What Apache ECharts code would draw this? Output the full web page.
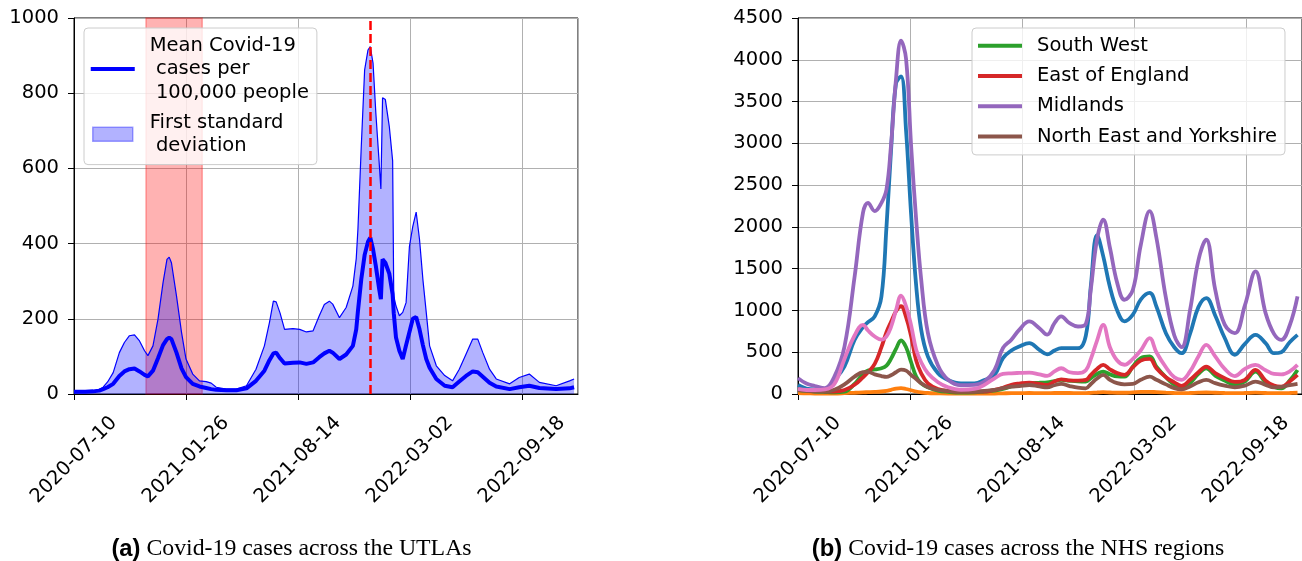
<!DOCTYPE html>
<html>
<head>
<meta charset="utf-8">
<title>Covid-19 cases across UTLAs and NHS regions</title>
<script src="https://cdn.jsdelivr.net/npm/echarts@6/dist/echarts.min.js"></script>
<style>
  html, body { margin: 0; padding: 0; background: #fff; }
  #chart { width: 1302px; height: 561px; }
</style>
</head>
<body>
<div id="chart"></div>
<script>
// x values are days counted from the first tick date
var startDate = Date.UTC(2020, 6, 10);
var xTickStep = 200;
var xMaxDay = 900;

// (a) UTLAs: mean cases per 100,000 and the upper edge of the 1 sd band
var utlaDays = [0, 20, 34, 45, 52, 60, 70, 81, 90, 99, 108, 117, 126, 132, 141, 150, 159, 166, 170, 174,
  183, 192, 200, 212, 224, 236, 245, 254, 272, 290, 308, 325, 340, 349, 356, 361, 368, 376, 391, 403,
  415, 427, 438, 447, 456, 462, 474, 486, 498, 504, 507, 513, 519, 525, 529, 534, 539, 545, 548, 551,
  556, 563, 569, 571, 575, 581, 587, 593, 599, 605, 611, 617, 623, 629, 635, 647, 662, 676, 688, 700,
  712, 721, 730, 742, 754, 778, 795, 813, 831, 861, 885, 893];
var utlaUpper = [7, 7, 8, 12, 18, 32, 57, 110, 137, 155, 157, 141, 115, 102, 128, 199, 296, 358, 364, 349,
  261, 164, 93, 53, 35, 33, 29, 18, 13, 13, 22, 66, 128, 190, 247, 245, 215, 172, 174, 172,
  165, 168, 208, 238, 247, 239, 203, 230, 287, 360, 438, 659, 862, 915, 924, 880, 747, 614, 545, 788,
  783, 712, 620, 260, 234, 208, 217, 243, 393, 446, 484, 411, 305, 217, 128, 75, 49, 35, 66, 106,
  146, 146, 110, 66, 40, 27, 44, 53, 31, 22, 35, 40];
var utlaMean = [6, 6, 7, 9, 13, 18, 27, 48, 60, 66, 68, 60, 51, 47, 62, 95, 130, 146, 150, 146,
  110, 68, 45, 27, 20, 16, 13, 11, 10, 10, 15, 35, 62, 90, 108, 110, 95, 81, 83, 84,
  80, 84, 98, 108, 115, 110, 93, 105, 128, 172, 220, 305, 370, 405, 416, 385, 340, 279, 252, 358,
  349, 320, 265, 215, 150, 115, 93, 130, 165, 200, 205, 172, 130, 93, 70, 40, 22, 18, 33, 48,
  60, 58, 46, 30, 20, 13, 18, 22, 16, 13, 15, 18];
var shadedSpan = [128.5, 229];
var markerDay = 529;

// (b) NHS regions
var regionDays = [0, 15, 30, 48, 65, 83, 101, 116, 125, 137, 149, 158, 166, 175, 184, 193, 202, 211, 220, 232,
  250, 268, 291, 315, 333, 351, 366, 381, 395, 413, 431, 445, 458, 470, 485, 500, 514, 523, 534, 545,
  557, 570, 583, 598, 612, 628, 640, 657, 672, 685, 700, 715, 729, 745, 762, 780, 798, 817, 835, 850,
  863, 878, 892];
var london = [108, 65, 56, 60, 168, 330, 648, 800, 860, 928, 1168, 2000, 2900, 3720, 3800, 3150, 2150, 1300, 768, 448,
  248, 168, 128, 128, 168, 228, 430, 520, 568, 608, 528, 475, 520, 548, 548, 548, 700, 1300, 1900, 1650,
  1280, 1000, 870, 950, 1130, 1210, 1048, 728, 560, 488, 720, 1040, 1148, 940, 670, 470, 600, 708, 608, 488,
  500, 620, 708];
var northWest = [10, 8, 6, 5, 6, 10, 15, 20, 22, 25, 30, 38, 50, 65, 70, 60, 45, 30, 20, 12,
  8, 5, 4, 4, 5, 6, 8, 10, 10, 12, 10, 10, 12, 12, 12, 10, 10, 14, 18, 22,
  18, 15, 15, 20, 25, 26, 22, 16, 12, 10, 12, 16, 18, 15, 12, 10, 12, 16, 12, 10,
  10, 12, 15];
var southWest = [48, 38, 30, 24, 20, 28, 120, 240, 280, 295, 308, 340, 420, 540, 640, 560, 380, 210, 128, 80,
  40, 25, 16, 20, 30, 40, 60, 90, 110, 128, 135, 140, 155, 168, 158, 150, 148, 190, 240, 268,
  235, 210, 208, 330, 430, 450, 328, 200, 110, 68, 130, 240, 308, 220, 160, 110, 150, 268, 140, 85,
  68, 160, 288];
var eastOfEngland = [56, 45, 40, 32, 30, 48, 110, 200, 260, 360, 560, 740, 860, 990, 1050, 920, 690, 400, 248, 128,
  60, 35, 28, 28, 28, 50, 75, 110, 125, 136, 120, 108, 150, 176, 162, 160, 168, 230, 300, 348,
  295, 250, 228, 320, 400, 420, 308, 200, 140, 96, 170, 260, 328, 250, 190, 145, 170, 288, 160, 100,
  88, 150, 228];
var midlands = [190, 125, 96, 70, 208, 568, 1400, 2168, 2288, 2188, 2288, 2448, 2968, 3768, 4228, 4008, 2968, 2088, 1368, 728,
  340, 170, 105, 108, 148, 288, 550, 650, 768, 868, 788, 710, 848, 928, 848, 808, 840, 1260, 1850, 2088,
  1750, 1330, 1128, 1248, 1780, 2188, 1870, 1150, 700, 560, 1000, 1600, 1848, 1250, 830, 728, 1060, 1468, 968, 720,
  648, 820, 1168];
var northEastYorkshire = [48, 38, 30, 28, 50, 115, 208, 262, 265, 235, 215, 205, 225, 260, 292, 280, 228, 180, 128, 82,
  50, 38, 28, 30, 38, 48, 70, 88, 95, 108, 90, 80, 105, 120, 95, 75, 68, 120, 185, 228,
  170, 130, 115, 120, 170, 208, 170, 115, 70, 56, 90, 140, 168, 130, 100, 80, 100, 148, 110, 80,
  85, 105, 120];
var southEast = [60, 48, 48, 55, 120, 420, 700, 828, 760, 688, 650, 690, 800, 1000, 1176, 1050, 820, 530, 380, 248,
  140, 80, 50, 60, 110, 188, 240, 248, 252, 256, 235, 216, 270, 308, 260, 250, 285, 420, 640, 828,
  560, 400, 350, 420, 520, 668, 500, 320, 200, 170, 270, 450, 588, 450, 300, 215, 300, 348, 285, 240,
  235, 270, 348];

var meanName = 'Mean Covid-19\n cases per\n 100,000 people';
var bandName = 'First standard\n deviation';

var font = 'DejaVu Sans';
var fontSize = 19.5;
// legend icons: a 4px bar or a patch, with blank space on the right as the handle/text gap
var lineIcon = 'path://M0,0M0,5.5h44v4h-44zM54,15';
var patchIcon = 'path://M0,0M2,0.5h40v14h-40zM54,15';

function pairs(days, values) {
  return days.map(function (d, i) { return [d, values[i]]; });
}

function dayLabel(v) {
  if (v % xTickStep !== 0) return '';
  return new Date(startDate + v * 86400000).toISOString().slice(0, 10);
}

function xAxisFor(gridIndex) {
  return {
    type: 'value', gridIndex: gridIndex, min: 0, max: xMaxDay, interval: xTickStep,
    axisLine: { show: true, onZero: false, lineStyle: { color: '#000', width: 1 } },
    axisTick: { show: true, length: 6, lineStyle: { color: '#000', width: 1 } },
    axisLabel: {
      rotate: 45, align: 'center', verticalAlign: 'middle', margin: 66,
      formatter: dayLabel, color: '#000', fontFamily: font, fontSize: fontSize, showMaxLabel: false
    },
    splitLine: { show: true, lineStyle: { color: '#b0b0b0', width: 1 } }
  };
}

function yAxisFor(gridIndex, max, step) {
  return {
    type: 'value', gridIndex: gridIndex, min: 0, max: max, interval: step,
    axisLine: { show: true, lineStyle: { color: '#000', width: 1 } },
    axisTick: { show: true, length: 6, lineStyle: { color: '#000', width: 1 } },
    axisLabel: {
      margin: 15, color: '#000', fontFamily: font, fontSize: fontSize,
      formatter: function (v) { return String(v); }
    },
    splitLine: { show: true, lineStyle: { color: '#b0b0b0', width: 1 } }
  };
}

function legendBox(opts) {
  return Object.assign({
    orient: 'vertical', selectedMode: false,
    itemWidth: 54, itemHeight: 15,
    backgroundColor: 'rgba(255,255,255,0.8)', borderColor: '#cccccc', borderWidth: 1, borderRadius: 4,
    textStyle: { color: '#000', fontFamily: font, fontSize: fontSize, lineHeight: 23.4 }
  }, opts);
}

function caption(x, tag, text) {
  return {
    type: 'text', x: x, y: 549,
    style: {
      text: '{b|' + tag + '}{r| ' + text + '}', align: 'center', verticalAlign: 'middle',
      rich: {
        b: { fontFamily: 'Liberation Sans', fontWeight: 'bold', fontSize: 23.8, fill: '#000' },
        r: { fontFamily: 'Liberation Serif', fontSize: 23.8, fill: '#000' }
      }
    }
  };
}

var regions = [
  { name: 'London', color: '#1f77b4', values: london },
  { name: 'North West', color: '#ff7f0e', values: northWest },
  { name: 'South West', color: '#2ca02c', values: southWest },
  { name: 'East of England', color: '#d62728', values: eastOfEngland },
  { name: 'Midlands', color: '#9467bd', values: midlands },
  { name: 'North East and Yorkshire', color: '#8c564b', values: northEastYorkshire },
  { name: 'South East', color: '#e377c2', values: southEast }
];
var legendRegions = ['South West', 'East of England', 'Midlands', 'North East and Yorkshire'];

var series = [
  {
    name: bandName, type: 'line', xAxisIndex: 0, yAxisIndex: 0, z: 2,
    data: pairs(utlaDays, utlaUpper), symbol: 'none', showSymbol: false,
    lineStyle: { color: '#0000ff', width: 1.2 },
    itemStyle: { color: '#0000ff' },
    areaStyle: { color: 'rgba(0,0,255,0.3)', opacity: 1, origin: 'start' }
  },
  {
    type: 'line', xAxisIndex: 0, yAxisIndex: 0, z: 3, data: [], silent: true,
    markArea: {
      silent: true,
      itemStyle: { color: 'rgba(255,0,0,0.3)', borderColor: 'rgba(255,0,0,0.3)', borderWidth: 1.5 },
      data: [[{ xAxis: shadedSpan[0] }, { xAxis: shadedSpan[1] }]]
    }
  },
  {
    name: meanName, type: 'line', xAxisIndex: 0, yAxisIndex: 0, z: 4,
    data: pairs(utlaDays, utlaMean), symbol: 'none', showSymbol: false,
    lineStyle: { color: '#0000ff', width: 4 },
    itemStyle: { color: '#0000ff' }
  },
  {
    type: 'line', xAxisIndex: 0, yAxisIndex: 0, z: 5, data: [], silent: true,
    markLine: {
      silent: true, symbol: ['none', 'none'], label: { show: false },
      lineStyle: { color: '#ff0000', width: 2.5, type: [9, 4] },
      data: [{ xAxis: markerDay }]
    }
  }
];

regions.forEach(function (r, i) {
  series.push({
    name: r.name, type: 'line', xAxisIndex: 1, yAxisIndex: 1, z: 2 + i * 0.01,
    data: pairs(regionDays, r.values), smooth: 0.4, symbol: 'none', showSymbol: false,
    lineStyle: { color: r.color, width: 3.8 },
    itemStyle: { color: r.color }
  });
});

var colorOf = {};
regions.forEach(function (r) { colorOf[r.name] = r.color; });

var option = {
  animation: false,
  backgroundColor: '#fff',
  textStyle: { fontFamily: font },
  grid: [
    { left: 74, top: 18, width: 504, height: 376, show: true, borderColor: '#000', borderWidth: 1, outerBoundsMode: 'none' },
    { left: 798, top: 18, width: 504, height: 376, show: true, borderColor: '#000', borderWidth: 1, outerBoundsMode: 'none' }
  ],
  xAxis: [xAxisFor(0), xAxisFor(1)],
  yAxis: [yAxisFor(0, 1000, 200), yAxisFor(1, 4500, 500)],
  legend: [
    legendBox({
      left: 84, top: 28, itemGap: 6.6, padding: [6, 8, 7, 6],
      data: [
        { name: meanName, icon: lineIcon, itemStyle: { color: '#0000ff', borderWidth: 0 } },
        { name: bandName, icon: patchIcon,
          itemStyle: { color: 'rgba(0,0,255,0.3)', borderColor: 'rgba(0,0,255,0.35)', borderWidth: 1.5 } }
      ]
    }),
    legendBox({
      left: 972, top: 28, itemGap: 6.9, padding: [6, 8, 6.6, 6],
      data: legendRegions.map(function (n) {
        return { name: n, icon: lineIcon, itemStyle: { color: colorOf[n], borderWidth: 0 } };
      })
    })
  ],
  graphic: [
    caption(291.5, '(a)', 'Covid-19 cases across the UTLAs'),
    caption(1018, '(b)', 'Covid-19 cases across the NHS regions')
  ],
  series: series
};

var chart = echarts.init(document.getElementById('chart'));
chart.setOption(option);
</script>
</body>
</html>
